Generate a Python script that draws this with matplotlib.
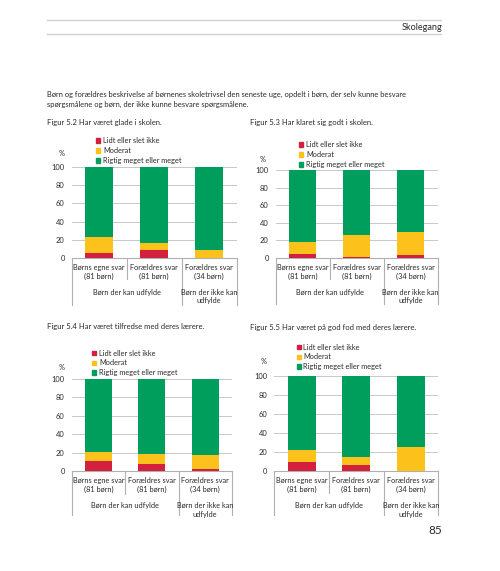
import matplotlib
matplotlib.use("Agg")
import matplotlib.pyplot as plt
from matplotlib.patches import Patch
from matplotlib.lines import Line2D
from matplotlib.transforms import blended_transform_factory

plt.rcParams['font.family'] = ['Lato', 'DejaVu Sans']

# ---------------------------------------------------------------- data
kategorier = ["Børns egne svar\n(81 børn)", "Forældres svar\n(81 børn)", "Forældres svar\n(34 børn)"]
grupper = ["Børn der kan udfylde", "Børn der ikke kan\nudfylde"]
serier = ["Lidt eller slet ikke", "Moderat", "Rigtig meget eller meget"]
farver = ["#d4203f", "#fcc21b", "#009e5c"]
yticks = [0, 20, 40, 60, 80, 100]

titler = ["Figur 5.2 Har været glade i skolen.",
          "Figur 5.3 Har klaret sig godt i skolen.",
          "Figur 5.4 Har været tilfredse med deres lærere.",
          "Figur 5.5 Har været på god fod med deres lærere."]

# procent pr. figur: lidt, moderat, rigtig meget
lidt_52 = [5, 9, 0]
moderat_52 = [18, 7, 9]
rigtig_52 = [77, 84, 91]

lidt_53 = [4, 1, 3]
moderat_53 = [14, 25, 26]
rigtig_53 = [82, 74, 71]

lidt_54 = [11, 8, 2]
moderat_54 = [10, 11, 16]
rigtig_54 = [79, 81, 82]

lidt_55 = [9, 6, 0]
moderat_55 = [13, 9, 25]
rigtig_55 = [78, 85, 75]

data = [(lidt_52, moderat_52, rigtig_52),
        (lidt_53, moderat_53, rigtig_53),
        (lidt_54, moderat_54, rigtig_54),
        (lidt_55, moderat_55, rigtig_55)]

brodtekst = ("Børn og forældres beskrivelse af børnenes skoletrivsel den seneste uge, opdelt i børn, der selv kunne besvare\n"
             "spørgsmålene og børn, der ikke kunne besvare spørgsmålene.")

# ---------------------------------------------------------------- layout (pixels)
W, H = 500, 571
def fx(px):
    return px / W
def fy(py):
    return 1 - py / H

# venstre, højre, y(100), y(0), titel-x, titel-y, legend-x, legend-top, "%"-pos, kort linje, lang linje
paneler = [
    dict(l=71.7, r=236.5, top=167.3, bund=257.7, tx=47, ty=123, lx=96, ly=137, px=(61.7, 154), kort=279, lang=305),
    dict(l=275.7, r=437.7, top=170.0, bund=257.7, tx=250, ty=123, lx=299, ly=141, px=(263, 160), kort=279, lang=304),
    dict(l=71.7, r=232.0, top=379.0, bund=471.3, tx=47, ty=326, lx=92, ly=349.5, px=(62, 367.5), kort=494, lang=515),
    dict(l=274.3, r=438.3, top=375.7, bund=471.0, tx=250, ty=327.5, lx=296.5, ly=343.5, px=(264, 361), kort=493, lang=515),
]

tekstfarve = "#2a2a2a"
fs = 5.3

fig = plt.figure(figsize=(W / 100, H / 100), dpi=100)

# sidehoved
for yy in (20, 34):
    fig.add_artist(Line2D([fx(47), fx(441)], [fy(yy), fy(yy)], color="#d0d0d0", lw=1.0))
fig.text(fx(442), fy(27.5), "Skolegang", ha="right", va="center", fontsize=6.6, color=tekstfarve)
fig.text(fx(47), fy(90.5), brodtekst, ha="left", va="top", fontsize=5.4, color=tekstfarve, linespacing=1.6)
fig.text(fx(442), fy(531), "85", ha="right", va="center", fontsize=8.5, color=tekstfarve)

for p, titel, (lidt, moderat, rigtig) in zip(paneler, titler, data):
    fig.text(fx(p["tx"]), fy(p["ty"]), titel, ha="left", va="center", fontsize=5.5, color=tekstfarve)

    ax = fig.add_axes([fx(p["l"]), fy(p["bund"]), fx(p["r"]) - fx(p["l"]), (p["bund"] - p["top"]) / H])
    x = list(range(len(kategorier)))
    bund = [0] * len(x)
    for vals, farve, navn in zip((lidt, moderat, rigtig), farver, serier):
        ax.bar(x, vals, bottom=bund, width=0.51, color=farve, label=navn, zorder=3)
        bund = [b + v for b, v in zip(bund, vals)]

    ax.set_xlim(-0.5, 2.5)
    ax.set_ylim(0, 100)
    ax.set_yticks(yticks)
    ax.set_xticks([])
    ax.grid(axis="y", color="#c8c8c8", lw=0.7, zorder=0)
    for s in ("top", "right", "left"):
        ax.spines[s].set_visible(False)
    ax.spines["bottom"].set_color("#b0b0b0")
    ax.spines["bottom"].set_linewidth(0.8)
    ax.tick_params(axis="y", length=0, labelsize=5.4, labelcolor=tekstfarve, pad=5)

    # kategoriakse under plottet
    tr = blended_transform_factory(ax.transData, fig.transFigure)
    for xv, slut in ((-0.5, p["lang"]), (0.5, p["kort"]), (1.5, p["lang"]), (2.5, p["lang"])):
        ax.add_line(Line2D([xv, xv], [fy(p["bund"]), fy(slut)], transform=tr, color="#b0b0b0", lw=0.8, clip_on=False))
    for xv, lab in zip(x, kategorier):
        ax.annotate(lab, (xv, 0), xycoords=("data", "axes fraction"), xytext=(0, -6),
                    textcoords="offset pixels", ha="center", va="top", fontsize=fs,
                    color=tekstfarve, linespacing=1.3)
    ax.annotate(grupper[0], (0.5, 0), xycoords=("data", "axes fraction"), xytext=(0, -31),
                textcoords="offset pixels", ha="center", va="top", fontsize=fs, color=tekstfarve)
    ax.annotate(grupper[1], (2, 0), xycoords=("data", "axes fraction"), xytext=(0, -31),
                textcoords="offset pixels", ha="center", va="top", fontsize=fs, color=tekstfarve,
                linespacing=1.3)

    handles = [Patch(color=c) for c in farver]
    fig.legend(handles, serier, loc="upper left", bbox_to_anchor=(fx(p["lx"]), fy(p["ly"])),
               bbox_transform=fig.transFigure, frameon=False, fontsize=fs,
               handlelength=0.6, handleheight=0.6, handletextpad=0.35, labelspacing=0.4,
               borderpad=0, borderaxespad=0, labelcolor=tekstfarve)
    fig.text(fx(p["px"][0]), fy(p["px"][1]), "%", ha="center", va="center", fontsize=fs, color=tekstfarve)

fig.savefig("out.png", dpi=100, facecolor="white")
